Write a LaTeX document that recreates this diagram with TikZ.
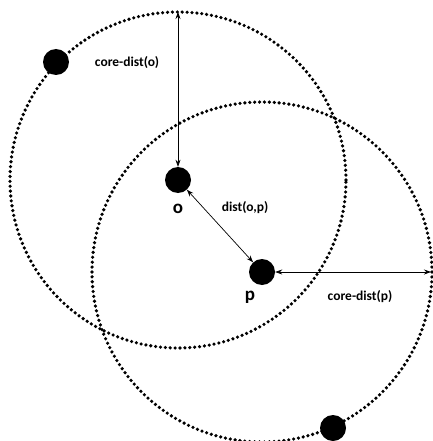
\documentclass[tikz,border=0pt]{standalone}
\usepackage{fontspec}
\setmainfont{Carlito}
\usetikzlibrary{arrows.meta}
\begin{document}
\begin{tikzpicture}[x=1pt,y=-1pt,
  ring/.style={line width=3.6pt,line cap=round,dash pattern=on 0pt off 4.9pt},
  pt/.style={circle,fill=black,inner sep=0pt,minimum size=26pt},
  conn/.style={line width=0.7pt,{Stealth[length=7pt,width=5pt]}-{Stealth[length=7pt,width=5pt]}},
  lbl/.style={font=\bfseries\fontsize{13.5}{15}\selectfont,inner sep=0pt},
  big/.style={font=\bfseries\fontsize{19}{21}\selectfont,inner sep=0pt}]
\useasboundingbox (0,0) rectangle (432,441);
\draw[ring] (178,180) circle[radius=168pt];
\draw[ring] (262,272) circle[radius=170pt];
\node[pt] (o) at (178,180) {};
\node[pt] (p) at (262,272) {};
\node[pt] (a) at (56,62) {};
\node[pt] (b) at (333,428) {};
\coordinate (otop) at (178,12);
\coordinate (pright) at (431,272);
\draw[conn] (otop) -- (o);
\draw[conn] (o) -- (p);
\draw[conn] (p) -- (pright);
\node[lbl] (l1) at (127,63) {core-dist(o)};
\node[lbl] (l2) at (245,208) {dist(o,p)};
\node[lbl] (l3) at (360,297) {core-dist(p)};
\node[big] (lo) at (178,209) {o};
\node[big] (lp) at (250,297) {p};
\end{tikzpicture}
\end{document}
